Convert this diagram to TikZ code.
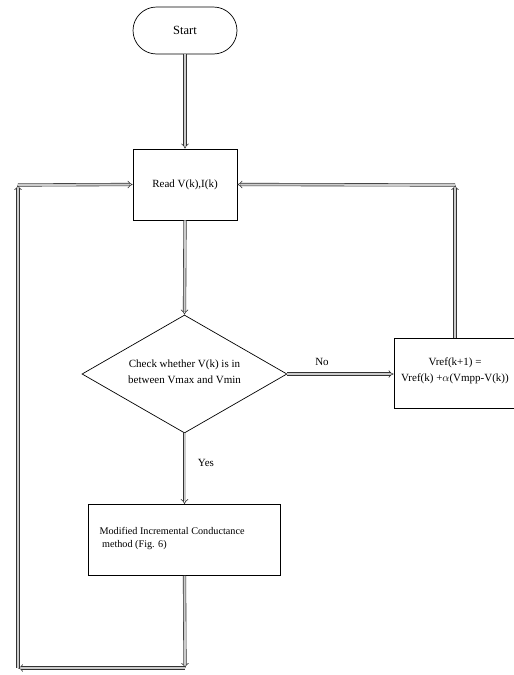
\documentclass[tikz,border=0pt]{standalone}
\usepackage{fontspec}
\setmainfont{Liberation Serif}
\usetikzlibrary{arrows.meta,shapes.geometric,shapes.misc}
\begin{document}
\begin{tikzpicture}[x=1pt,y=-1pt,
  box/.style={draw, line width=0.7pt, rectangle, inner sep=0pt, font=\fontsize{11}{13}\selectfont},
  blk/.style={draw=black!80, double=gray!40, double distance=2pt, line width=0.6pt, -{Implies[length=4pt]}},
  lbl/.style={font=\fontsize{11}{16}\selectfont}]
\useasboundingbox (0,0) rectangle (514,675);
\node[box, rounded rectangle, minimum width=104pt, minimum height=47pt, font=\fontsize{12.5}{14}\selectfont] (start) at (185,30.5) {Start};
\node[box, minimum width=104pt, minimum height=71pt] (read) at (185,184.5) {Read V(k),I(k)};
\node[box, diamond, aspect=1.75, minimum width=205pt, minimum height=118pt] (chk) at (184.5,374)
  {};
\node[lbl, align=center] at (184.5,372) {Check whether V(k) is in\\between Vmax and Vmin};
\node[box, minimum width=121pt, minimum height=70pt, anchor=north west] (vref) at (393.5,338) {};
\node[lbl, align=center] at (455,371) {Vref(k+1) =\\Vref(k) +$\alpha$(Vmpp-V(k))};
\node[box, minimum width=192pt, minimum height=71pt] (mic) at (184.5,540) {};
\node[lbl, align=left, anchor=west, font=\fontsize{10.2}{12.5}\selectfont] at (96,538.5) {Modified Incremental Conductance\\\ method (Fig. 6)};
\node[lbl] at (322,362) {No};
\node[lbl] at (206,463) {Yes};
\coordinate (vt) at (455,185);
\coordinate (bb) at (185,668);
\coordinate (bl) at (18,668);
\coordinate (tl) at (18,185);
\draw[blk] (start.south) -- (read.north);
\draw[blk] (read.south) -- (chk.north);
\draw[blk] (chk.east) -- (vref.west |- chk.east);
\draw[blk] (chk.south) -- (mic.north);
\draw[blk] (vref.north -| vt) -- (vt);
\draw[blk] (vt) -- (read.east);
\draw[blk] (mic.south) -- (bb);
\draw[blk] (bb) -- (bl);
\draw[blk] (bl) -- (tl);
\draw[blk] (tl) -- (read.west);
\end{tikzpicture}
\end{document}
